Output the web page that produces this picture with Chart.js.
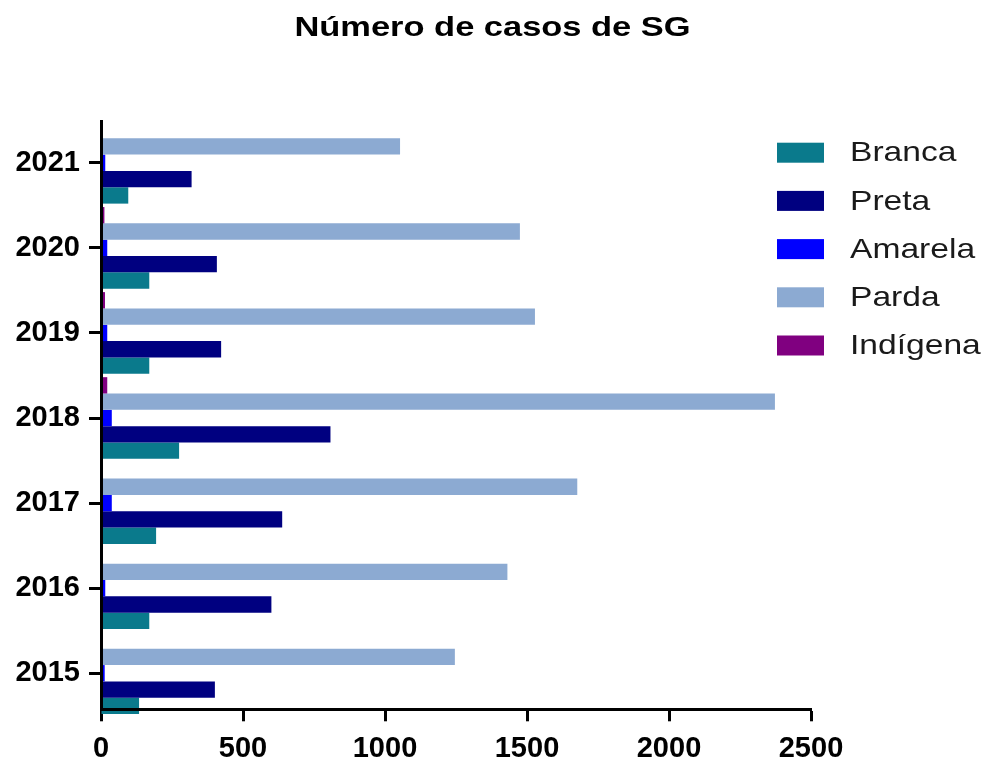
<!DOCTYPE html>
<html lang="pt">
<head>
<meta charset="utf-8">
<title>Número de casos de SG</title>
<script src="https://cdn.jsdelivr.net/npm/chart.js@4/dist/chart.umd.min.js"></script>
<style>
  html, body { margin: 0; padding: 0; background: #ffffff; }
  #wrap { width: 985px; height: 760px; }
</style>
</head>
<body>
<div id="wrap"><canvas id="chart" width="985" height="760"></canvas></div>
<script>
// Cases per year, by race/colour group
const years    = [2015, 2016, 2017, 2018, 2019, 2020, 2021];
const branca   = [134, 170, 194, 275, 170, 170, 96];
const preta    = [401, 600, 638, 808, 423, 408, 319];
const amarela  = [13, 15, 38, 38, 22, 22, 15];
const parda    = [1246, 1431, 1677, 2373, 1528, 1475, 1053];
const indigena = [0, 0, 0, 22, 14, 12, 0];

const groupNames  = ['Branca', 'Preta', 'Amarela', 'Parda', 'Indígena'];
const groupValues = [branca, preta, amarela, parda, indigena];
const groupColors = ['#0A7A8C', '#000080', '#0000FF', '#8CAAD2', '#800080'];
const xTicks = [0, 500, 1000, 1500, 2000, 2500];
const chartTitle = 'Número de casos de SG';

const FONT = '"Liberation Sans", Arial, Helvetica, sans-serif';

// Bars inside a year are laid out top-down, so the last group is listed first
const datasets = groupNames.map((name, g) => ({
  label: name,
  data: years.map((y, i) => ({ x: groupValues[g][i], y: y })),
  backgroundColor: groupColors[g],
  borderWidth: 0,
  clip: false
})).reverse();

// Draws text squeezed/stretched horizontally to a set width factor
function wideText(ctx, text, x, y, stretch) {
  ctx.save();
  ctx.translate(x, y);
  ctx.scale(stretch, 1);
  ctx.fillText(text, 0, 0);
  ctx.restore();
}

// Centred title across the whole canvas and legend column on the right
const headerAndLegend = {
  id: 'headerAndLegend',
  afterDraw(chart) {
    const { ctx, chartArea, width } = chart;
    ctx.save();
    ctx.fillStyle = '#000000';
    ctx.font = 'bold 28px ' + FONT;
    ctx.textBaseline = 'middle';
    ctx.textAlign = 'center';
    wideText(ctx, chartTitle, width / 2, 28, 1.23);

    const boxX = chartArea.right - 34;
    const firstY = chartArea.top + 31;
    const step = 48.2;
    ctx.font = '28px ' + FONT;
    ctx.textAlign = 'left';
    groupNames.forEach((name, i) => {
      const cy = firstY + i * step;
      ctx.fillStyle = groupColors[i];
      ctx.fillRect(boxX, cy - 10, 47, 20);
      ctx.fillStyle = '#1a1a1a';
      wideText(ctx, name, boxX + 73, cy + 1, 1.2);
    });
    ctx.restore();
  }
};

new Chart(document.getElementById('chart'), {
  type: 'bar',
  data: { datasets },
  plugins: [headerAndLegend],
  options: {
    indexAxis: 'y',
    responsive: false,
    animation: false,
    events: [],
    categoryPercentage: 0.96,
    barPercentage: 1.0,
    layout: { padding: { top: 121.7, right: 174, bottom: 0, left: 0 } },
    plugins: {
      legend: { display: false },
      tooltip: { enabled: false },
      title: { display: false }
    },
    scales: {
      x: {
        type: 'linear',
        position: 'bottom',
        min: 0,
        max: 2500,
        afterBuildTicks: (s) => { s.ticks = xTicks.map(v => ({ value: v })); },
        afterFit: (s) => { s.height = 50.7; },
        ticks: {
          color: '#000000',
          padding: 13,
          font: { family: FONT, size: 29, weight: 'bold', lineHeight: 1 },
          callback: (v) => String(v)
        },
        grid: {
          display: true,
          drawOnChartArea: false,
          drawTicks: true,
          tickLength: 12,
          tickWidth: 3,
          tickColor: '#000000'
        },
        border: { display: true, color: '#000000', width: 3, z: 1 }
      },
      y: {
        type: 'linear',
        position: 'left',
        offset: false,
        min: 2014.576,
        max: 2021.483,
        afterBuildTicks: (s) => { s.ticks = years.map(v => ({ value: v })); },
        afterFit: (s) => { s.width = 101; },
        ticks: {
          color: '#000000',
          padding: 9,
          font: { family: FONT, size: 29, weight: 'bold', lineHeight: 1 },
          callback: (v) => String(v)
        },
        grid: {
          display: true,
          offset: false,
          drawOnChartArea: false,
          drawTicks: true,
          tickLength: 12,
          tickWidth: 3,
          tickColor: '#000000'
        },
        border: { display: true, color: '#000000', width: 3, z: 1 }
      }
    }
  }
});
</script>
</body>
</html>
